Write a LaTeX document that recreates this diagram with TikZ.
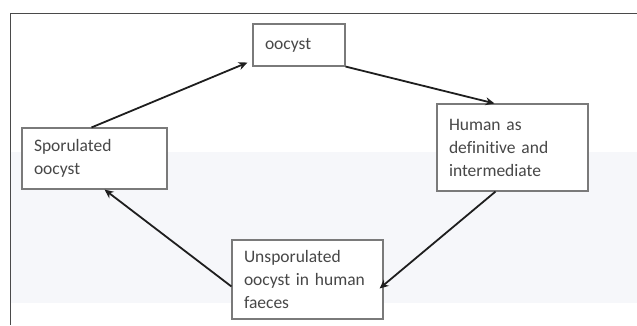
\documentclass[tikz,border=0pt]{standalone}
\usepackage{fontspec}
\setmainfont{Carlito}[Ligatures=NoCommon]
\usetikzlibrary{arrows.meta}

\definecolor{boxgray}{HTML}{7A7A7A}
\definecolor{bandgray}{HTML}{F6F7FA}
\definecolor{framegray}{HTML}{4A4A4A}
\definecolor{arrowblack}{HTML}{1E1E1E}

\tikzset{
  stage/.style={draw=boxgray, line width=1.1pt, fill=white, rectangle,
    inner xsep=12pt, inner ysep=0pt, align=left, text=black!72,
    font=\fontsize{17.5}{23}\selectfont},
  cyclearrow/.style={draw=arrowblack, line width=1.8pt,
    -{Stealth[length=9pt,width=8pt]}}
}

\begin{document}
\begin{tikzpicture}[x=1pt, y=-1pt]
  \useasboundingbox (0,0) rectangle (637,325);
  % page background and frame
  \fill[bandgray] (10,152) rectangle (637,303);
  \draw[framegray, line width=1pt] (637,13) -- (10,13) -- (10,325);

  \node[stage, minimum width=92pt, minimum height=42pt, text width=68pt] (oocyst) at (299,45) {oocyst};
  \node[stage, minimum width=151pt, minimum height=87pt, text width=127pt] (human) at (512.5,147.5) {Human as\\definitive and\\intermediate};
  \node[stage, minimum width=145pt, minimum height=61pt, text width=121pt] (sporulated) at (94.5,158.5) {Sporulated\\oocyst};
  \node[stage, minimum width=151pt, minimum height=79pt, text width=127pt] (unsporulated) at (307.5,279.5) {Unsporulated\\oocyst in human\\faeces};

  \draw[cyclearrow] ([xshift=-3pt]sporulated.north) -- ([xshift=-5pt,yshift=4pt]oocyst.south west);
  \draw[cyclearrow] (oocyst.south east) -- ([xshift=-18pt]human.north);
  \draw[cyclearrow] ([xshift=-17pt]human.south) -- ([xshift=-4pt,yshift=-9pt]unsporulated.east);
  \draw[cyclearrow] ([yshift=-7pt]unsporulated.west) -- ([xshift=10pt]sporulated.south);

\end{tikzpicture}
\end{document}
